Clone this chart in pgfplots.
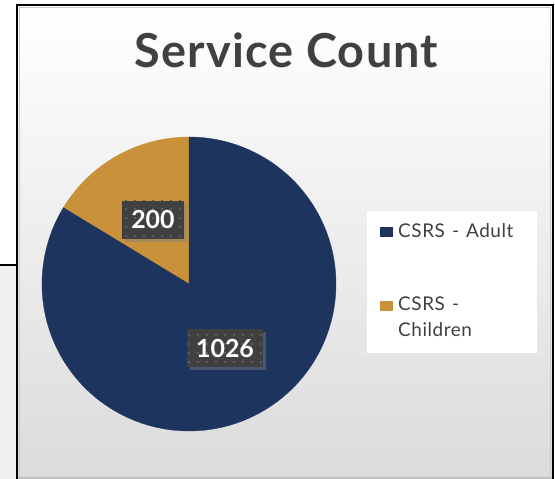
\documentclass[border=0pt]{standalone}
\usepackage{pgfplots}
\pgfplotsset{compat=1.18}
\usepackage{fontspec}
\setmainfont{Lato}
\newfontfamily\legfont[WordSpace=1.3, LetterSpace=3]{Lato}
\newfontfamily\titlefont[LetterSpace=2.5]{Lato}
\usetikzlibrary{patterns,shadows}

\definecolor{navy}{HTML}{1D355E}
\definecolor{gold}{HTML}{C9913A}
\definecolor{txt}{HTML}{404040}
\definecolor{lblbg}{HTML}{404040}
\definecolor{lbldot}{HTML}{5C5C5C}

% big dotted texture of the data labels
\pgfdeclarepatternformonly{bigdots}{\pgfqpoint{-2bp}{-2bp}}{\pgfqpoint{2bp}{2bp}}{\pgfqpoint{9bp}{9bp}}%
{\pgfpathrectangle{\pgfqpoint{-1.4bp}{-1.4bp}}{\pgfqpoint{2.8bp}{2.8bp}}\pgfusepath{fill}}

\tikzset{lbl/.style={fill=lblbg, postaction={pattern=bigdots, pattern color=lbldot},
    drop shadow={shadow xshift=3bp, shadow yshift=-3bp, opacity=0.45},
    text=white, font=\bfseries\fontsize{25}{28}\selectfont,
    minimum height=38bp, inner xsep=9bp, inner ysep=0bp}}

% data
\def\vAdult{1026}
\def\vChild{200}
\pgfmathsetmacro\total{\vAdult+\vChild}
\pgfmathsetmacro\aSplit{90+360*(\vChild/\total)}
\pgfmathsetmacro\mChild{(90+\aSplit)/2}
\pgfmathsetmacro\mAdult{(\aSplit+450)/2}

\begin{document}
\begin{tikzpicture}[x=1bp,y=1bp]
\useasboundingbox (0,0) rectangle (555,479);

% strip left of the chart
\fill[white] (0,214) rectangle (17,479);
\fill[black!6] (0,0) rectangle (17,214);
\draw[black, line width=1.5bp] (0,214) -- (17,214);

% chart area
\shade[top color=white, middle color=black!10, bottom color=black!14] (17,2) rectangle (553,474);
\draw[black!20, line width=0.8bp] (19.5,2) -- (19.5,471.5) -- (550.5,471.5) -- (550.5,2);
\draw[black!25, line width=1.5bp] (17,1) -- (553,1);
\draw[black, line width=2bp] (17,0) -- (17,474) -- (553,474) -- (553,0);

% title
\node[anchor=base, text=txt, font=\titlefont\bfseries\fontsize{47}{50}\selectfont] at (286.5,411) {Service Count};

\begin{axis}[
  at={(189bp,195bp)}, anchor=center,
  width=294bp, height=294bp, scale only axis,
  xmin=-1, xmax=1, ymin=-1, ymax=1,
  hide axis, clip=false,
]
\addplot[fill=gold, draw=gold, line width=0.3bp, domain=90:\aSplit, samples=80, variable=\t]
  ({cos(\t)},{sin(\t)}) -- (axis cs:0,0) -- cycle;
\addplot[fill=navy, draw=navy, line width=0.3bp, domain=\aSplit:450, samples=240, variable=\t]
  ({cos(\t)},{sin(\t)}) -- (axis cs:0,0) -- cycle;

\node[lbl] at (axis cs:{0.5*cos(\mChild)},{0.5*sin(\mChild)}) {\vChild};
\node[lbl] at (axis cs:{0.5*cos(\mAdult)},{0.5*sin(\mAdult)}) {\vAdult};
\end{axis}

% legend
\fill[white] (367,126) rectangle (537,268);
\fill[navy] (380,242) rectangle (393,252);
\node[anchor=base west, inner sep=0, text=txt, font=\legfont\fontsize{19}{22}\selectfont] at (398,241) {CSRS - Adult};
\fill[gold] (380,168) rectangle (393,178);
\node[anchor=base west, inner sep=0, text=txt, font=\legfont\fontsize{19}{22}\selectfont] at (398,168) {CSRS -};
\node[anchor=base west, inner sep=0, text=txt, font=\legfont\fontsize{19}{22}\selectfont] at (398,142) {Children};
\end{tikzpicture}
\end{document}
